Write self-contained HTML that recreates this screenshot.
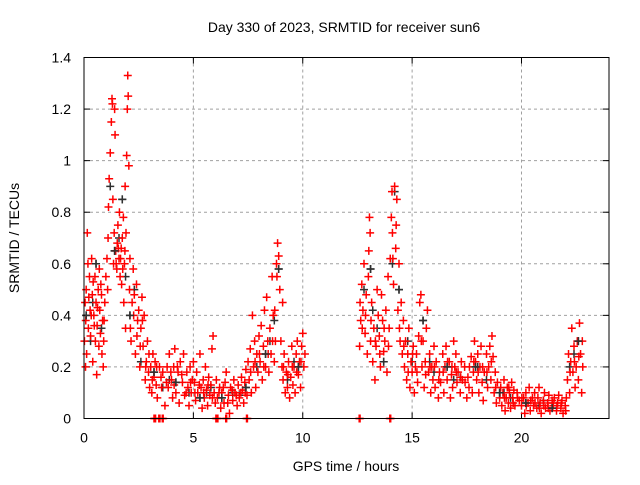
<!DOCTYPE html>
<html><head><meta charset="utf-8"><style>
body{margin:0;background:#fff;}
text{font-family:"Liberation Sans",sans-serif;font-size:14px;fill:#000;}
</style></head><body>
<svg id="chart" width="640" height="480" xmlns="http://www.w3.org/2000/svg">
<rect width="640" height="480" fill="#fff"/>
<text x="344" y="32" text-anchor="middle">Day 330 of 2023, SRMTID for receiver sun6</text>
<text x="346" y="471" text-anchor="middle">GPS time / hours</text>
<text transform="translate(19,238) rotate(-90)" text-anchor="middle">SRMTID / TECUs</text>
<g id="grid"></g>
<g id="ticks"></g>
<g id="points"></g>
<rect x="84" y="57.5" width="525" height="361" fill="none" stroke="#000" stroke-width="1"/>
</svg>
<script>
const xTicks=[0,5,10,15,20];
const yTicks=[0,0.2,0.4,0.6,0.8,1,1.2,1.4];
const yTickLabels=["0","0.2","0.4","0.6","0.8","1","1.2","1.4"];
const redData=[[0.02,.3],[0.05,.45],[0.08,.38],[0.1,.5],[0.12,.25],[0.15,.72],[0.18,.6],[0.2,.35],[0.25,.55],[0.28,.42],[0.3,.32],[0.35,.62],[0.38,.48],[0.4,.22],[0.42,.53],[0.45,.4],[0.5,.55],[0.52,.3],[0.55,.45],[0.58,.17],[0.6,.36],[0.65,.5],[0.68,.28],[0.7,.58],[0.72,.42],[0.75,.33],[0.8,.48],[0.82,.25],[0.85,.38],[0.88,.2],[0.9,.3],[0.95,.45],
[1.0,.55],[1.05,.62],[1.1,.7],[1.12,.82],[1.15,.93],[1.2,1.03],[1.25,1.15],[1.28,1.24],[1.3,1.22],[1.32,.85],[1.35,.6],[1.38,.72],[1.4,1.2],[1.42,1.1],[1.45,.65],[1.5,.58],[1.52,.68],[1.55,.75],[1.6,.62],[1.62,.8],[1.65,.55],[1.7,.66],[1.72,.52],[1.75,.7],[1.8,.78],[1.82,.45],[1.85,.6],[1.88,.9],[1.9,.35],[1.92,.72],[1.95,1.02],[1.98,1.2],[2.0,1.33],[2.02,1.25],[2.05,.98],[2.08,.5],[2.1,.62],
[2.15,.3],[2.2,.45],[2.25,.58],[2.3,.48],[2.35,.25],[2.4,.52],[2.45,.38],[2.5,.42],[2.55,.2],[2.6,.35],[2.65,.47],[2.7,.28],[2.75,.4],[2.8,.15],[2.85,.22],[2.9,.3],[2.95,.18],[3.0,.12],
[3.05,.2],[3.1,.1],[3.15,.25],[3.2,.16],[3.25,.22],[3.3,.13],[3.35,.08],[3.45,.2],[3.55,.12],[3.6,.18],[3.7,.05],[3.8,.2],[3.85,.12],[3.9,.25],[4.0,.15],[4.05,.08],[4.1,.2],[4.15,.27],[4.2,.1],[4.3,.18],[4.35,.06],[4.4,.22],[4.5,.14],[4.55,.25],[4.6,.09],[4.7,.18],[4.75,.12],[4.8,.05],[4.85,.2],[4.9,.1],[4.95,.15],
[5.0,.22],[5.05,.14],[5.1,.07],[5.15,.18],[5.2,.1],[5.3,.25],[5.35,.12],[5.4,.04],[5.45,.15],[5.5,.08],[5.55,.2],[5.6,.11],[5.65,.05],[5.7,.16],[5.75,.09],[5.8,.13],[5.85,.27],[5.9,.32],[5.95,.1],[6.0,.06],[6.05,.15],[6.1,.08],[6.2,.12],[6.25,.04],[6.3,.1],[6.4,.06],[6.45,.14],[6.5,.18],[6.6,.09],[6.65,.02],[6.7,.12],[6.8,.07],[6.85,.15],[6.9,.1],[7.0,.05],[7.05,.13],[7.1,.08],[7.2,.16],[7.25,.11],[7.3,.06],[7.35,.14],[7.4,.19],[7.45,.09],
[7.5,.22],[7.55,.15],[7.6,.27],[7.65,.1],[7.7,.4],[7.75,.2],[7.8,.3],[7.85,.12],[7.9,.25],[7.95,.18],[8.0,.32],[8.05,.22],[8.1,.36],[8.15,.15],[8.2,.28],[8.25,.42],[8.3,.2],[8.35,.47],[8.4,.3],[8.45,.18],[8.5,.35],[8.55,.25],[8.6,.55],[8.65,.4],[8.7,.22],[8.75,.3],[8.8,.6],[8.85,.68],[8.9,.63],[8.95,.5],[9.0,.3],[9.05,.2],[9.08,.45],
[9.1,.15],[9.15,.25],[9.2,.1],[9.25,.18],[9.3,.12],[9.35,.22],[9.4,.08],[9.45,.16],[9.5,.28],[9.55,.13],[9.6,.2],[9.65,.1],[9.7,.25],[9.75,.3],[9.8,.17],[9.85,.22],[9.9,.12],[9.95,.28],[10.0,.33],[10.05,.2],[10.1,.25],
[12.6,.28],[12.62,.45],[12.65,.38],[12.7,.52],[12.75,.42],[12.8,.6],[12.85,.33],[12.9,.48],[12.95,.25],[13.0,.55],[13.02,.65],[13.05,.78],[13.08,.72],[13.1,.3],[13.15,.45],[13.2,.22],[13.25,.35],[13.3,.15],[13.35,.28],[13.4,.5],[13.45,.4],[13.5,.32],[13.55,.2],[13.6,.48],[13.65,.38],[13.7,.26],[13.75,.3],[13.8,.42],[13.85,.18],[13.9,.55],[13.95,.35],
[14.0,.62],[14.05,.78],[14.08,.88],[14.1,.72],[14.15,.52],[14.2,.9],[14.25,.66],[14.3,.85],[14.35,.42],[14.4,.6],[14.45,.3],[14.5,.45],[14.55,.25],[14.6,.38],
[14.65,.2],[14.7,.3],[14.75,.15],[14.8,.25],[14.85,.35],[14.9,.12],[14.95,.22],[15.0,.18],[15.05,.28],[15.1,.1],[15.15,.2],[15.2,.25],[15.25,.14],[15.3,.32],[15.35,.45],[15.4,.48],[15.45,.2],[15.5,.3],[15.55,.12],[15.6,.22],[15.65,.35],[15.7,.42],[15.75,.18],[15.8,.25],[15.85,.1],[15.9,.2],[15.95,.15],[16.0,.28],[16.05,.12],[16.1,.22],[16.2,.08],[16.25,.18],[16.3,.14],[16.4,.25],[16.45,.1],[16.5,.2],[16.55,.28],[16.6,.15],[16.7,.22],[16.75,.08],[16.8,.17],[16.85,.12],[16.9,.3],[16.95,.2],[17.0,.25],[17.05,.14],[17.1,.18],[17.2,.1],[17.25,.22],[17.3,.15],[17.4,.2],[17.5,.08],[17.55,.16],[17.6,.12],[17.7,.24],[17.75,.1],[17.8,.18],
[17.85,.3],[17.9,.22],[17.95,.15],[18.0,.25],[18.05,.1],[18.1,.2],[18.15,.28],[18.2,.14],[18.25,.07],[18.3,.18],[18.4,.25],[18.45,.12],[18.5,.2],[18.55,.28],[18.6,.15],[18.65,.32],[18.7,.24],[18.75,.1],[18.8,.18],[18.85,.06],[18.9,.14],[19.0,.08],[19.05,.12],[19.1,.05],[19.15,.1],[19.2,.15],[19.25,.03],[19.3,.08],[19.35,.12],[19.4,.06],[19.45,.1],[19.5,.04],[19.55,.14],[19.6,.08],[19.65,.11],[19.7,.05],[19.8,.1],[19.9,.07],
[20.0,.05],[20.1,.08],[20.15,.02],[20.2,.1],[20.3,.06],[20.35,.12],[20.4,.03],[20.5,.08],[20.55,.05],[20.6,.1],[20.7,.04],[20.75,.08],[20.8,.12],[20.85,.06],[20.9,.02],[21.0,.07],[21.05,.1],[21.1,.04],[21.2,.06],[21.25,.09],[21.3,.03],[21.4,.07],[21.45,.05],[21.5,.08],[21.6,.03],[21.65,.06],[21.7,.09],[21.8,.04],[21.85,.07],[21.9,.02],[22.0,.05],
[22.05,.08],[22.1,.15],[22.15,.25],[22.2,.1],[22.25,.22],[22.3,.35],[22.35,.18],[22.4,.28],[22.45,.12],[22.5,.2],[22.55,.3],[22.6,.15],[22.65,.37],[22.7,.25],[22.75,.1],[22.8,.2],
[3.2,0],[3.23,0],[3.27,0],[3.42,0],[3.47,0],[3.58,0],[3.62,0],[6.03,0],[6.08,0],[6.12,0],[6.48,0],[6.52,0],[7.43,0],[7.47,0],[12.58,0],[12.62,0],[13.98,0],[14.02,0]];
const redExtra=[[0.07,.2],[0.22,.47],[0.33,.4],[0.47,.36],[0.62,.43],[0.77,.52],[0.92,.38],[1.08,.5],[1.47,.6],[1.57,.66],[1.67,.62],[1.77,.58],[1.87,.65],[2.12,.35],[2.27,.4],[2.42,.32],[2.57,.28],[2.67,.38],[2.82,.2],[2.97,.25],[3.12,.15],[3.32,.2],[3.52,.16],[3.77,.14],[3.97,.18],[4.12,.13],[4.27,.2],[4.47,.17],[4.67,.1],[4.87,.14],[5.07,.1],[5.27,.13],[5.47,.1],[5.67,.13],[5.87,.08],[6.17,.1],[6.37,.12],[6.57,.06],[6.77,.11],[6.97,.09],[7.17,.1],[7.37,.1],[7.62,.18],[7.82,.22],[8.02,.25],[8.22,.2],[8.42,.25],[8.62,.3],[8.72,.42],[8.82,.55],[9.12,.2],[9.32,.17],[9.52,.2],[9.72,.18],[9.92,.22],[12.72,.35],[12.87,.4],[13.12,.38],[13.32,.3],[13.52,.25],[13.72,.35],[13.92,.28],[14.12,.62],[14.27,.75],[14.42,.35],[14.62,.28],[14.82,.18],[15.02,.25],[15.22,.18],[15.42,.3],[15.62,.17],[15.82,.2],[16.02,.2],[16.22,.15],[16.42,.18],[16.62,.22],[16.82,.2],[17.02,.18],[17.22,.16],[17.42,.14],[17.62,.2],[17.82,.22],[18.02,.18],[18.22,.2],[18.42,.18],[18.62,.22],[18.82,.12],[19.02,.1],[19.22,.08],[19.42,.12],[19.62,.06],[19.82,.08],[20.02,.08],[20.22,.05],[20.42,.07],[20.62,.06],[20.82,.04],[21.02,.05],[21.22,.04],[21.42,.06],[21.62,.05],[21.82,.06],[22.02,.03],[22.22,.18],[22.42,.22],[22.62,.24],[22.78,.3]];
const blackData=[[0.1,.4],[0.3,.3],[0.55,.6],[0.8,.35],[1.4,.65],[1.6,.7],[1.75,.85],[1.9,.55],[2.1,.4],[2.6,.22],[3.2,.18],[3.6,.12],[4.2,.14],[4.8,.1],[5.3,.08],[5.8,.12],[6.3,.08],[6.8,.1],[7.4,.12],[7.9,.2],[8.3,.25],[8.7,.38],[8.9,.58],[9.3,.15],[9.8,.2],[12.8,.5],[13.1,.58],[13.4,.35],[13.7,.22],[14.2,.88],[14.4,.5],[15.0,.22],[15.5,.38],[16.0,.18],[16.6,.2],[17.2,.16],[17.9,.2],[18.4,.15],[19.0,.1],[19.5,.08],[20.2,.06],[20.8,.05],[21.4,.04],[22.2,.2],[22.6,.3]];
const blackExtra=[[0.4,.45],[1.2,.9],[2.3,.5],[3.9,.15],[5.6,.1],[7.1,.09],[8.5,.3],[9.6,.22],[13.2,.42],[14.1,.6],[14.8,.3],[15.8,.22],[16.9,.15],[18.0,.2],[19.2,.1],[21.0,.07],[22.4,.25]];

const NS="http://www.w3.org/2000/svg";
const L=84,R=609,T=57.5,B=418.5;
function sx(t){return L+(R-L)*t/24;}
function sy(v){return B-(B-T)*v/1.4;}
function mk(tag,attrs,parent){const e=document.createElementNS(NS,tag);for(const k in attrs)e.setAttribute(k,attrs[k]);parent.appendChild(e);return e;}
const grid=document.getElementById('grid'),ticks=document.getElementById('ticks'),pts=document.getElementById('points');
xTicks.forEach(t=>{
  const x=sx(t);
  if(t>0){const g=mk('line',{x1:x,x2:x,y1:T,y2:B,stroke:'#a0a0a0','stroke-dasharray':'3,3'},grid);
  
  }
  mk('line',{x1:x,x2:x,y1:B,y2:B-6,stroke:'#000'},ticks);
  mk('line',{x1:x,x2:x,y1:T,y2:T+6,stroke:'#000'},ticks);
  const lb=mk('text',{x:x,y:B+24,'text-anchor':'middle'},ticks);lb.textContent=String(t);
  
  
});
yTicks.forEach((v,i)=>{
  const y=sy(v);
  if(v>0&&v<1.4){const g=mk('line',{x1:L,x2:R,y1:y,y2:y,stroke:'#a0a0a0','stroke-dasharray':'3,3'},grid);
  
  }
  mk('line',{x1:L,x2:L+6,y1:y,y2:y,stroke:'#000'},ticks);
  mk('line',{x1:R,x2:R-6,y1:y,y2:y,stroke:'#000'},ticks);
  const lb=mk('text',{x:L-13,y:y+5,'text-anchor':'end'},ticks);lb.textContent=yTickLabels[i];
  
  
});
function plus(d,col){
  const x=sx(d[0]),y=sy(d[1]);
  const p=mk('path',{d:`M${x-4},${y}H${x+4}M${x},${y-4}V${y+4}`,stroke:col,'stroke-width':1.5,fill:'none'},pts);
  
  
}
blackData.forEach(d=>plus(d,'#303030'));
blackExtra.forEach(d=>plus(d,'#303030'));
redData.forEach(d=>plus(d,'#ff0000'));
redExtra.forEach(d=>plus(d,'#ff0000'));
blackData.filter((d,i)=>i%2===0).forEach(d=>plus(d,'#303030'));
</script>
</body></html>
